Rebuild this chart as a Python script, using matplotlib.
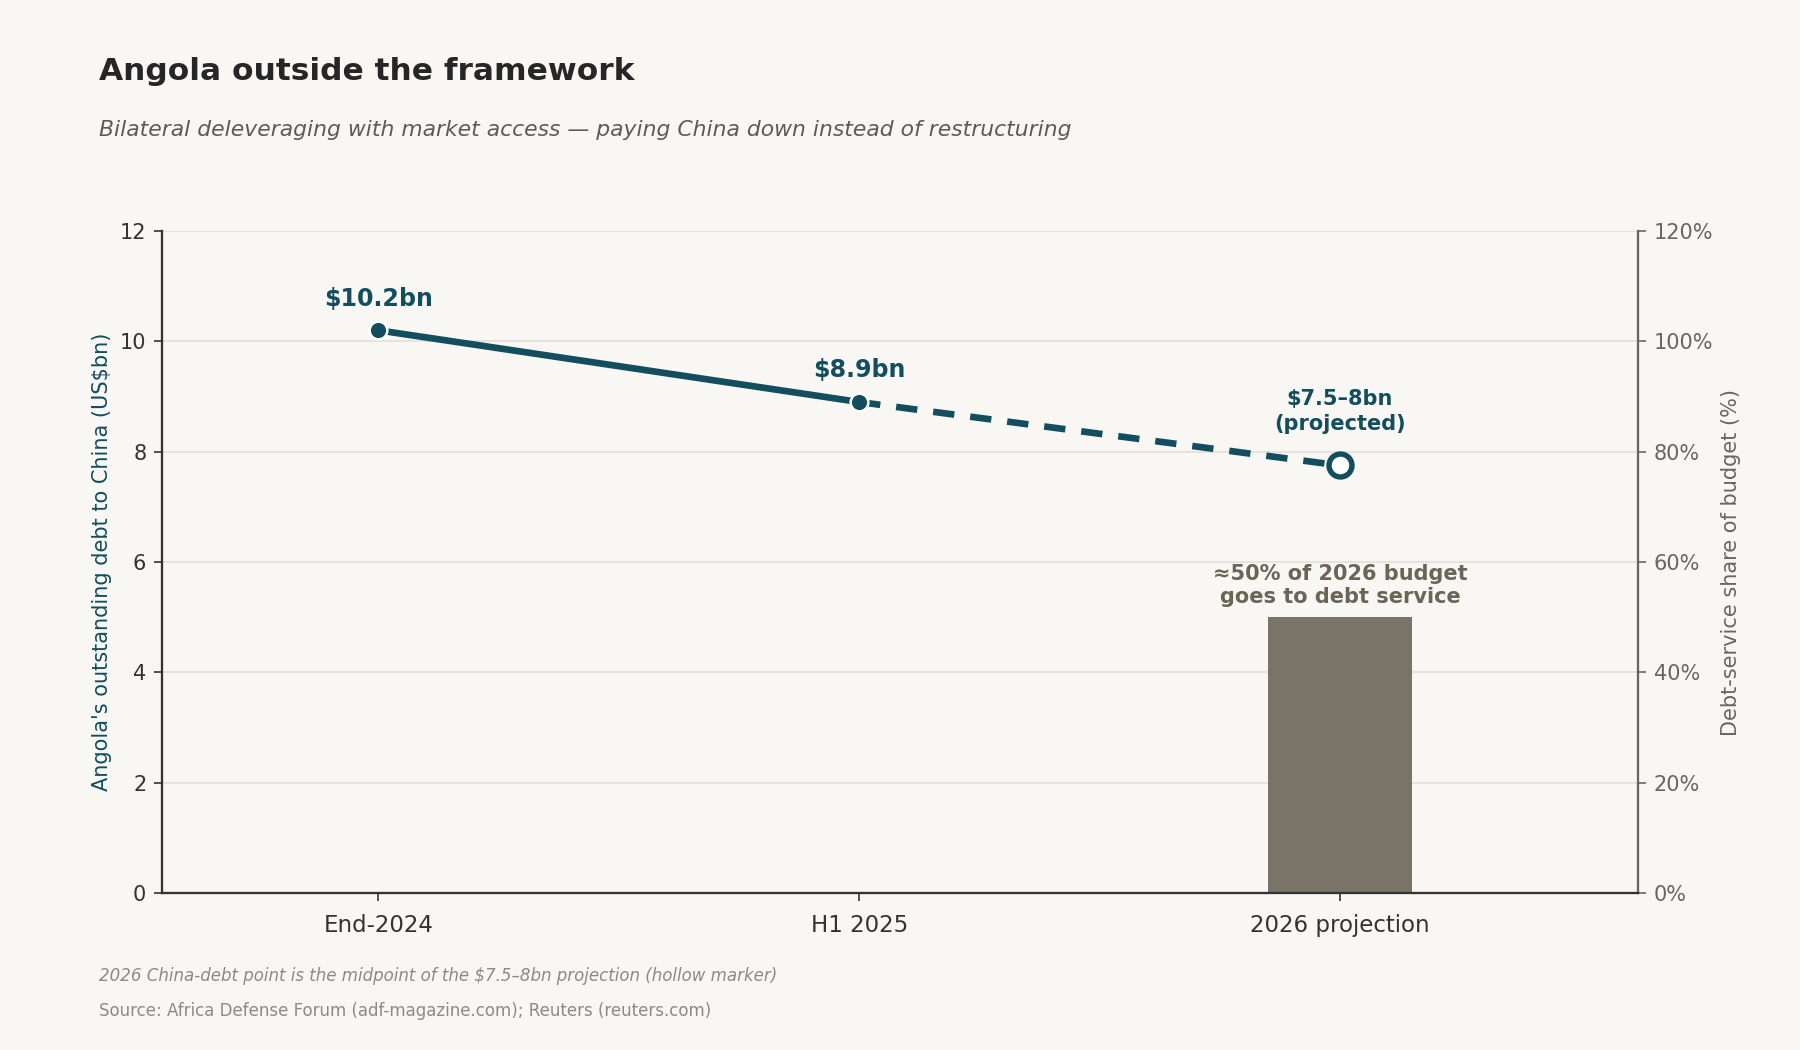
import matplotlib.pyplot as plt
from matplotlib.ticker import FuncFormatter

# data
periods = ['End-2024', 'H1 2025', '2026 projection']
china_debt = [10.2, 8.9, 7.75]          # US$bn, last one is midpoint of 7.5-8
debt_labels = ['$10.2bn', '$8.9bn', '$7.5–8bn\n(projected)']
budget_share = [50]                     # % of 2026 budget to debt service
budget_label = '≈50% of 2026 budget\ngoes to debt service'

BG = '#f9f7f3'
TEAL = '#134e5e'
BAR = '#797368'
GRID = '#e6e2dc'


def main():
    fig = plt.figure(figsize=(12, 7), dpi=150, facecolor=BG)
    ax = fig.add_axes([0.09, 0.1495, 0.82, 0.6305])
    ax2 = ax.twinx()
    ax2.set_facecolor(BG)

    x = list(range(len(periods)))

    # budget bar on the right axis (drawn behind the line axes)
    ax2.set_zorder(1)
    ax.set_zorder(2)
    ax.patch.set_visible(False)
    ax2.set_axisbelow(True)
    ax2.grid(axis='y', color=GRID, lw=1.0)
    ax2.bar([x[2]], budget_share, width=0.3, color=BAR, zorder=2)
    ax2.annotate(budget_label, (x[2], budget_share[0]), xytext=(0, 5),
                 textcoords='offset points', ha='center', va='bottom',
                 fontsize=10, fontweight='bold', color='#6b6558')

    # china debt line: solid for actuals, dashed for projection
    ax.plot(x[:2], china_debt[:2], color=TEAL, lw=3.2, solid_capstyle='butt', zorder=3)
    ax.plot(x[1:], china_debt[1:], color=TEAL, lw=3.2, dashes=(3.2, 2.4), zorder=3)
    ax.plot(x[:2], china_debt[:2], 'o', color=TEAL, ms=8.5, mec='white', mew=1.2, zorder=4)
    ax.plot(x[2], china_debt[2], 'o', color=TEAL, ms=11, mfc='white', mec=TEAL, mew=2.6, zorder=4)

    for i in range(2):
        ax.annotate(debt_labels[i], (x[i], china_debt[i]), xytext=(0, 9.5),
                    textcoords='offset points', ha='center', va='bottom',
                    fontsize=11.4, fontweight='bold', color=TEAL)
    ax.annotate(debt_labels[2], (x[2], china_debt[2]), xytext=(0, 15),
                textcoords='offset points', ha='center', va='bottom',
                fontsize=10, fontweight='bold', color=TEAL, linespacing=1.3)

    ax.set_xlim(-0.45, 2.62)
    ax.set_ylim(0, 12)
    ax2.set_ylim(0, 120)
    ax.set_xticks(x)
    ax.set_xticklabels(periods, fontsize=11, color='#333333')
    ax.set_yticks(range(0, 13, 2))
    ax.tick_params(axis='y', labelsize=10, colors='#333333', length=4)
    ax.tick_params(axis='x', length=4, colors='#333333', pad=6)
    ax2.set_yticks(range(0, 121, 20))
    ax2.yaxis.set_major_formatter(FuncFormatter(lambda v, p: '{:.0f}%'.format(v)))
    ax2.tick_params(axis='y', labelsize=10, colors='#666666', length=4)

    ax.set_ylabel("Angola's outstanding debt to China (US$bn)", fontsize=10, color=TEAL)
    ax2.set_ylabel('Debt-service share of budget (%)', fontsize=10, color='#666666')

    for a in (ax, ax2):
        a.spines['top'].set_visible(False)
    ax.spines['right'].set_visible(False)
    ax.spines['left'].set_color('#333333')
    ax.spines['bottom'].set_color('#333333')
    ax2.spines['left'].set_visible(False)
    ax2.spines['bottom'].set_visible(False)
    ax2.spines['right'].set_color('#666666')
    for s in ('left', 'bottom', 'right'):
        ax.spines[s].set_linewidth(1.1)
        ax2.spines[s].set_linewidth(1.1)

    fig.text(0.055, 0.932, 'Angola outside the framework', fontsize=15,
             fontweight='bold', color='#262626', va='center')
    fig.text(0.055, 0.876, 'Bilateral deleveraging with market access — paying China down instead of restructuring',
             fontsize=10.5, style='italic', color='#605a55', va='center')
    fig.text(0.055, 0.0705, '2026 China-debt point is the midpoint of the $7.5–8bn projection (hollow marker)',
             fontsize=8, style='italic', color='#8a8a8a', va='center')
    fig.text(0.055, 0.037, 'Source: Africa Defense Forum (adf-magazine.com); Reuters (reuters.com)',
             fontsize=8, color='#8a8a8a', va='center')

    fig.savefig('out.png', dpi=150, facecolor=BG)


if __name__ == "__main__":
    main()
